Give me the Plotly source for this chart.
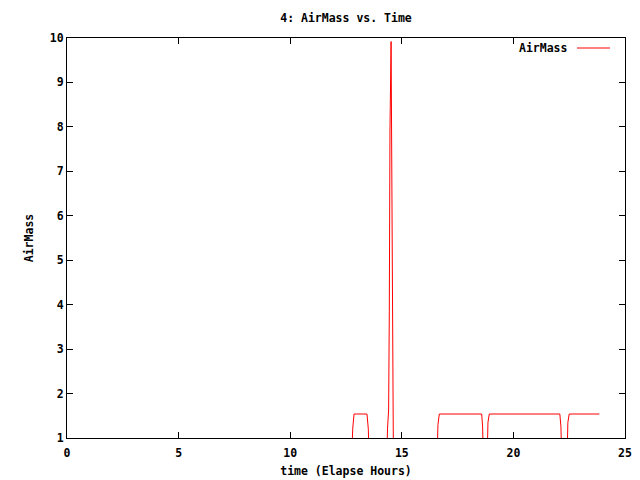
import plotly.graph_objects as go

# Elapsed time (hours) and airmass values
time_hours = [0.0, 12.72, 12.80, 12.86, 13.44, 13.50, 13.56,
              14.30, 14.36, 14.41, 14.44, 14.47, 14.52, 14.55, 14.59, 14.63,
              16.55, 16.62, 16.68, 18.58, 18.62, 18.68,
              18.80, 18.86, 18.92, 22.08, 22.13, 22.19,
              22.38, 22.44, 22.50, 23.85]
airmass = [0.0, 0.0, 1.2, 1.54, 1.54, 1.2, 0.0,
           0.0, 1.22, 1.63, 3.84, 7.93, 9.92, 7.7, 3.25, 0.0,
           0.0, 1.3, 1.54, 1.54, 1.25, 0.0,
           0.0, 1.35, 1.54, 1.54, 1.25, 0.0,
           0.0, 1.35, 1.54, 1.54]

x_ticks = [0, 5, 10, 15, 20, 25]
y_ticks = [1, 2, 3, 4, 5, 6, 7, 8, 9, 10]

FONT = "DejaVu Sans Mono"
BF = dict(family=FONT, size=11.5, color="black", weight="bold")

fig = go.Figure()
fig.add_trace(go.Scatter(x=time_hours, y=airmass, mode="lines",
                         line=dict(color="#ff0000", width=1),
                         name="AirMass", showlegend=False))

axis_common = dict(showgrid=False, zeroline=False, showline=True,
                   linecolor="black", linewidth=1, mirror="ticks",
                   ticks="inside", ticklen=6, tickcolor="black",
                   automargin=False, tickfont=BF)

fig.update_layout(
    width=640, height=480, autosize=False,
    paper_bgcolor="white", plot_bgcolor="white",
    margin=dict(l=67, r=15, t=38, b=42, pad=0),
    title=dict(text="4: AirMass vs. Time", x=0.5, xref="paper",
               y=1 - 18 / 480, yref="container", yanchor="middle",
               automargin=False, font=BF),
    xaxis=dict(range=[0, 25], tickvals=x_ticks, ticklabelstandoff=4,
               title=dict(text="time (Elapse Hours)", standoff=8, font=BF),
               **axis_common),
    yaxis=dict(range=[1, 10], tickvals=y_ticks,
               title=dict(text="AirMass", standoff=13, font=BF),
               **axis_common),
    showlegend=False,
)

# gnuplot-style key: text then line sample on the right
fig.add_annotation(text="AirMass", xref="paper", yref="paper",
                   x=(569 - 67) / 558, y=1 - (48 - 38) / 400,
                   xanchor="right", yanchor="middle", showarrow=False,
                   font=BF)
fig.add_shape(type="line", xref="paper", yref="paper",
              x0=(577 - 67) / 558, x1=(610 - 67) / 558,
              y0=1 - (48 - 38) / 400, y1=1 - (48 - 38) / 400,
              line=dict(color="#ff0000", width=1))

fig.write_html("out.html",
               config={"displayModeBar": False},
               post_script="document.body.style.margin='0';document.body.style.overflow='hidden';")
